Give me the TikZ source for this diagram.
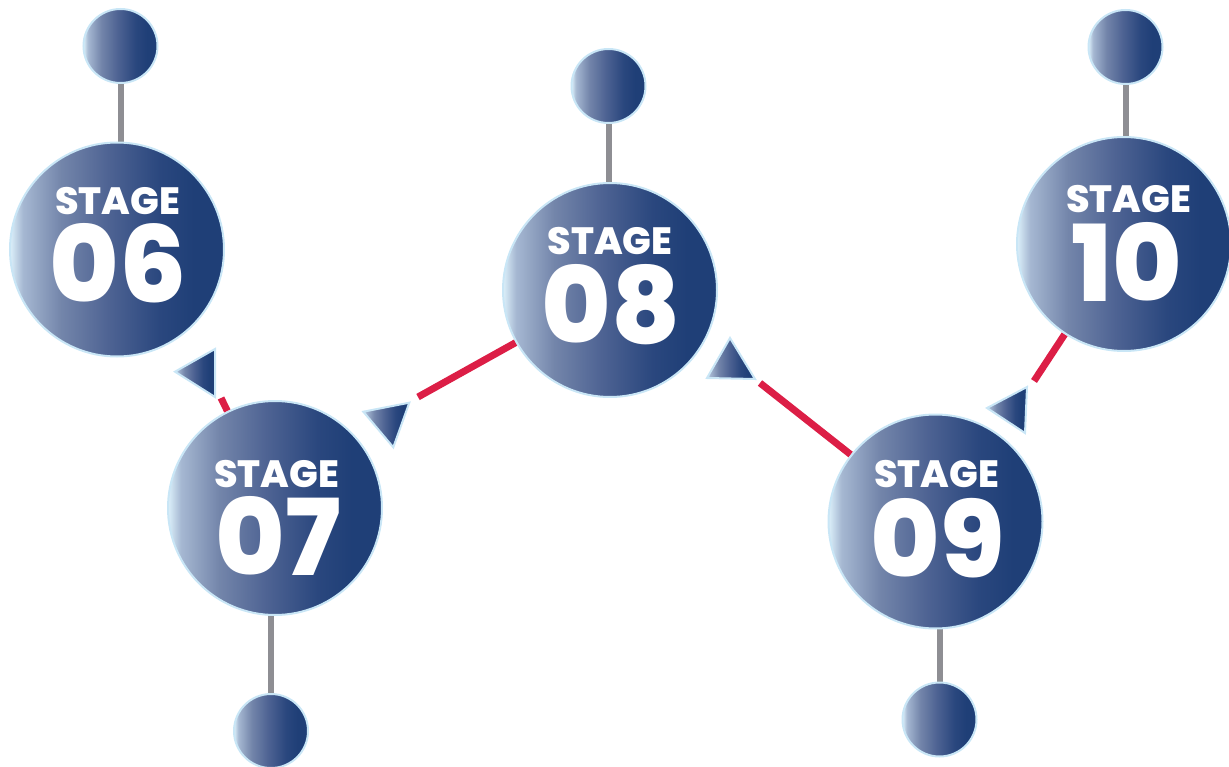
\documentclass[tikz,border=0pt]{standalone}
\usepackage{fontspec}
\newfontfamily\stagefont{Poppins ExtraBold}
\usetikzlibrary{backgrounds}

\definecolor{g0}{HTML}{DCF0FA}
\definecolor{g1}{HTML}{A6B8D2}
\definecolor{g2}{HTML}{7385AA}
\definecolor{g3}{HTML}{4E6393}
\definecolor{g4}{HTML}{2A477E}
\definecolor{g5}{HTML}{1F3F77}
\definecolor{glow}{HTML}{C9E6F6}
\definecolor{linkred}{HTML}{DC1E46}
\definecolor{stemgray}{HTML}{8E8E93}

% light-to-navy left/right fill used by every disc and pointer
\pgfdeclarehorizontalshading{stagegrad}{100bp}{%
  color(0bp)=(g0); color(25bp)=(g0); color(28bp)=(g1); color(37bp)=(g2);
  color(48bp)=(g3); color(60bp)=(g4); color(68bp)=(g5); color(100bp)=(g5)}

\begin{document}
\begin{tikzpicture}[x=1pt,y=-1pt,
  stagedisc/.style={circle,inner sep=0pt,minimum size=214pt,draw=glow,line width=2pt,shading=stagegrad},
  knob/.style={circle,inner sep=0pt,minimum size=74pt,draw=glow,line width=2pt,shading=stagegrad},
  stagetag/.style={text=white,font=\stagefont\fontsize{38}{38}\selectfont,inner sep=0pt,anchor=base},
  stagenum/.style={text=white,font=\stagefont\fontsize{106}{106}\selectfont,inner sep=0pt,anchor=base},
  stem/.style={draw=stemgray,line width=6pt},
  link/.style={draw=linkred,line width=7pt},
  pointer/.style={shading=stagegrad,draw=glow,line width=2pt}]

\useasboundingbox (0,0) rectangle (1229,767);

% stage discs with their captions
\node[stagedisc] (s06) at (117,249.5) {};
\node[stagetag] (l06) at (117.5,215) {STAGE};
\node[stagenum] (n06) at (118,303) {06};

\node[stagedisc] (s07) at (275,508) {};
\node[stagetag] (l07) at (276.5,487) {STAGE};
\node[stagenum] (n07) at (278,575) {07};

\node[stagedisc] (s08) at (610,290) {};
\node[stagetag] (l08) at (610,255) {STAGE};
\node[stagenum] (n08) at (611,343) {08};

\node[stagedisc] (s09) at (935.5,521.5) {};
\node[stagetag] (l09) at (936.5,487) {STAGE};
\node[stagenum] (n09) at (937.5,577) {09};

\node[stagedisc] (s10) at (1124,244) {};
\node[stagetag] (l10) at (1128.5,213) {STAGE};
\node[stagenum] (n10) at (1126.5,302) {10};

% small end knobs
\node[knob] (t06) at (120.5,46) {};
\node[knob] (t07) at (271,731) {};
\node[knob] (t08) at (608.5,86) {};
\node[knob] (t09) at (939.5,719.5) {};
\node[knob] (t10) at (1125.5,47) {};

% free ends of the red links
\coordinate (c67) at (221,398);
\coordinate (c78) at (418,397);
\coordinate (c89) at (760,383);
\coordinate (c910) at (1034,381);

\begin{pgfonlayer}{background}
  \draw[stem] (t06.center) -- (t06 |- s06.center);
  \draw[stem] (t07.center) -- (t07 |- s07.center);
  \draw[stem] (t08.center) -- (t08 |- s08.center);
  \draw[stem] (t09.center) -- (t09 |- s09.center);
  \draw[stem] (t10.center) -- (t10 |- s10.center);

  \draw[link] (s07) -- (c67);
  \draw[link] (s08) -- (c78);
  \draw[link] (s09) -- (c89);
  \draw[link] (s10) -- (c910);
\end{pgfonlayer}

% triangular pointers
\path[pointer] (175,371.7) -- (215,349) -- (215,397) -- cycle;
\path[pointer] (363.3,411.7) -- (409.3,402.7) -- (393.3,447.3) -- cycle;
\path[pointer] (730,338) -- (707,378) -- (755,379) -- cycle;
\path[pointer] (987,408) -- (1027,387) -- (1025,433) -- cycle;
\end{tikzpicture}
\end{document}
